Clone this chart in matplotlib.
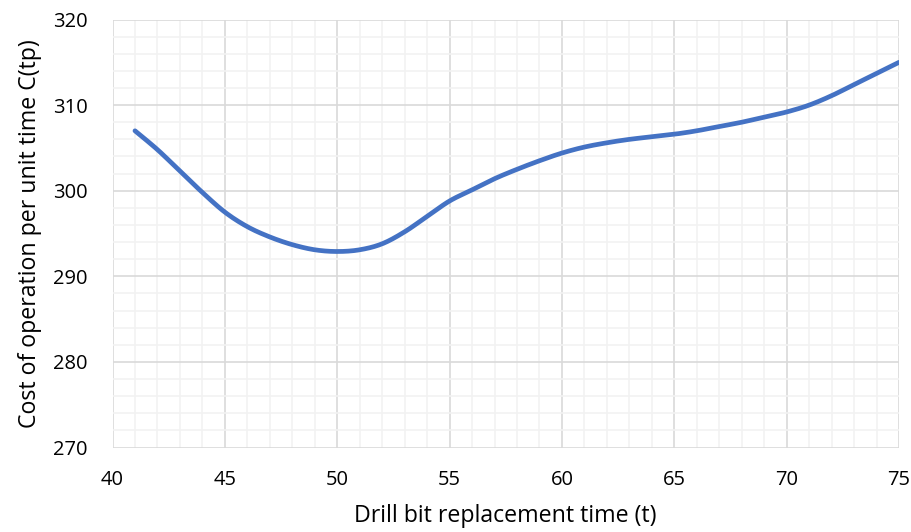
import numpy as np
import matplotlib
matplotlib.use("Agg")
import matplotlib.pyplot as plt
from matplotlib.ticker import MultipleLocator

x_vals = list(range(41, 76))
cost = [307.0, 304.8, 302.3, 299.8, 297.5, 295.8, 294.6, 293.7, 293.1, 292.9,
        293.1, 293.8, 295.2, 297.0, 298.8, 300.1, 301.4, 302.5, 303.5, 304.4,
        305.1, 305.6, 306.0, 306.3, 306.6, 307.0, 307.5, 308.0, 308.6, 309.2,
        310.0, 311.1, 312.4, 313.7, 315.0]

def catmull_rom(xs, ys, n=20):
    xs = np.asarray(xs, float); ys = np.asarray(ys, float)
    px = np.concatenate([[2*xs[0]-xs[1]], xs, [2*xs[-1]-xs[-2]]])
    py = np.concatenate([[2*ys[0]-ys[1]], ys, [2*ys[-1]-ys[-2]]])
    ox, oy = [], []
    for i in range(1, len(px)-2):
        t = np.linspace(0, 1, n, endpoint=False)
        for P, out in ((px, ox), (py, oy)):
            p0, p1, p2, p3 = P[i-1], P[i], P[i+1], P[i+2]
            out.extend(0.5*((2*p1) + (-p0+p2)*t + (2*p0-5*p1+4*p2-p3)*t**2 + (-p0+3*p1-3*p2+p3)*t**3))
    ox.append(xs[-1]); oy.append(ys[-1])
    return np.array(ox), np.array(oy)

plt.rcParams['font.family'] = ['Open Sans', 'DejaVu Sans']
fig = plt.figure(figsize=(9.11, 5.32), dpi=100)
ax = fig.add_axes([0.1235, 0.1588, 0.8633, 0.8045])

sx, sy = catmull_rom(x_vals, cost)
ax.plot(sx, sy, color='#4472C4', lw=3.4, solid_capstyle='round', zorder=3)

ax.set_xlim(40, 75)
ax.set_ylim(270, 320)
ax.xaxis.set_major_locator(MultipleLocator(5))
ax.xaxis.set_minor_locator(MultipleLocator(1))
ax.yaxis.set_major_locator(MultipleLocator(10))
ax.yaxis.set_minor_locator(MultipleLocator(2))
ax.grid(which='major', color='#d9d9d9', lw=1.2)
ax.grid(which='minor', color='#f2f2f2', lw=1.2)
ax.set_axisbelow(True)
for s in ax.spines.values():
    s.set_visible(False)
ax.tick_params(which='both', length=0, labelsize=14.5, colors='black')
ax.tick_params(axis='x', pad=16)
ax.tick_params(axis='y', pad=18)
ax.set_xlabel('Drill bit replacement time (t)', fontsize=16.7, labelpad=10)
ax.set_ylabel('Cost of operation per unit time C(tp)', fontsize=16.7, labelpad=8)

fig.savefig('out.png', dpi=100)
